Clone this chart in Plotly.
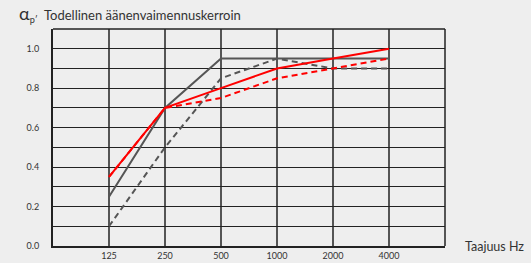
import plotly.graph_objects as go

freqs = ["125", "250", "500", "1000", "2000", "4000"]
gray_solid = [0.25, 0.70, 0.95, 0.95, 0.95, 0.95]
gray_dashed = [0.10, 0.50, 0.85, 0.95, 0.90, 0.90]
red_solid = [0.35, 0.70, 0.80, 0.90, 0.95, 1.00]
red_dashed = [0.35, 0.70, 0.75, 0.85, 0.90, 0.95]
y_ticks = [0.0, 0.1, 0.2, 0.3, 0.4, 0.5, 0.6, 0.7, 0.8, 0.9, 1.0]
y_labels = ["0.0", "", "0.2", "", "0.4", "", "0.6", "", "0.8", "", "1.0"]

FONT = "Lato"
TXT = "#333333"
BG = "#eeeeee"

fig = go.Figure()
series = [
    (gray_solid, "#555555", "solid"),
    (gray_dashed, "#555555", "6px,4px"),
    (red_dashed, "#ff0000", "6px,4px"),
    (red_solid, "#ff0000", "solid"),
]
for vals, col, dash in series:
    fig.add_trace(go.Scatter(x=freqs, y=vals, mode="lines",
                             line=dict(color=col, width=2, dash=dash),
                             showlegend=False, hoverinfo="skip"))

fig.update_layout(
    width=531, height=263,
    margin=dict(l=53, r=86, t=29, b=17, autoexpand=False),
    paper_bgcolor=BG, plot_bgcolor=BG,
    font=dict(family=FONT, size=9, color=TXT),
    xaxis=dict(type="category", categoryorder="array", categoryarray=freqs,
               range=[-1, 6], showgrid=True, gridcolor="#555555", gridwidth=2,
               showline=True, linecolor="#222222", linewidth=2, mirror=False,
               ticks="", tickfont=dict(size=9, color=TXT), zeroline=False,
               automargin=False),
    yaxis=dict(range=[0, 1.1], tickvals=y_ticks, ticktext=y_labels,
               showgrid=True, gridcolor="#222222", gridwidth=1,
               showline=True, linecolor="#222222", linewidth=2,
               ticks="", ticklabelstandoff=10, tickfont=dict(size=9, color=TXT),
               zeroline=False, automargin=False),
    shapes=[
        dict(type="line", xref="paper", yref="paper", x0=0, x1=1, y0=1, y1=1,
             line=dict(color="#222222", width=1.5)),
        dict(type="line", xref="paper", yref="paper", x0=1, x1=1, y0=0, y1=1,
             line=dict(color="#222222", width=1.5)),
    ],
    annotations=[
        dict(xref="paper", yref="paper", x=-0.092, y=1.01, xanchor="left", yanchor="bottom",
             text="<span style='font-size:18px'>α</span><sub>p′</sub>  Todellinen äänenvaimennuskerroin",
             showarrow=False, font=dict(size=13, color=TXT, family=FONT)),
        dict(xref="paper", yref="paper", x=1.045, y=0.0, xanchor="left", yanchor="middle",
             text="Taajuus Hz", showarrow=False,
             font=dict(size=12.5, color=TXT, family=FONT)),
    ],
)

fig.write_html("out.html", config={"displayModeBar": False},
               post_script="document.body.style.margin='0';document.body.style.background='#eeeeee';")
